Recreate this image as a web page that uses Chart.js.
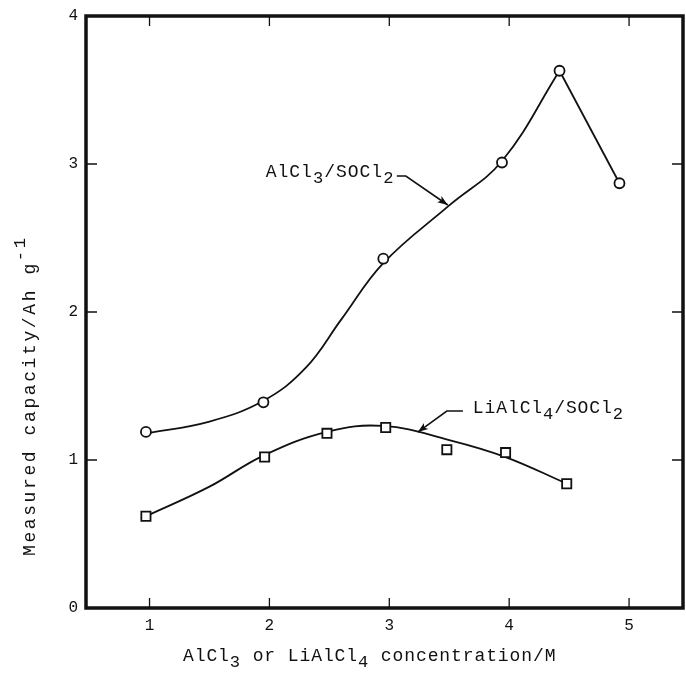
<!DOCTYPE html>
<html>
<head>
<meta charset="utf-8">
<script src="https://cdn.jsdelivr.net/npm/chart.js@4.4.1/dist/chart.umd.min.js"></script>
<style>
  html, body { margin: 0; padding: 0; background: #fff; }
  #wrap { width: 686px; height: 677px; position: relative; }
</style>
</head>
<body>
<div id="wrap"><canvas id="cap-chart"></canvas></div>
<script>
  // AlCl3/SOCl2 measured points (circles)
  const alX = [0.97, 1.95, 2.95, 3.94, 4.42, 4.92];
  const alY = [1.19, 1.39, 2.36, 3.01, 3.63, 2.87];
  // hand-drawn curve through them (rising part, then straight drop after peak)
  const alCurveX = [0.97, 1.5, 1.95, 2.3, 2.6, 2.95, 3.5, 3.94, 4.42];
  const alCurveY = [1.18, 1.26, 1.40, 1.62, 1.95, 2.33, 2.72, 3.02, 3.63];
  const alDropX = [4.42, 4.92];
  const alDropY = [3.63, 2.87];

  // LiAlCl4/SOCl2 measured points (squares)
  const liX = [0.97, 1.96, 2.48, 2.97, 3.48, 3.97, 4.48];
  const liY = [0.62, 1.02, 1.18, 1.22, 1.07, 1.05, 0.84];
  const liCurveX = [0.97, 1.5, 1.95, 2.48, 2.95, 3.5, 3.97, 4.48];
  const liCurveY = [0.62, 0.82, 1.03, 1.19, 1.23, 1.135, 1.02, 0.84];

  const xTicks = [1, 2, 3, 4, 5];
  const yTicks = [0, 1, 2, 3, 4];

  const FONT = '"Liberation Mono", "DejaVu Sans Mono", monospace';
  const INK = "#111";

  function pts(xs, ys) {
    return xs.map(function (x, i) { return { x: x, y: ys[i] }; });
  }

  // draw text with sub/superscript parts along current baseline
  function drawRich(ctx, parts, x, y, size, spacing) {
    ctx.save();
    ctx.letterSpacing = spacing + "px";
    ctx.textBaseline = "alphabetic";
    ctx.textAlign = "left";
    let cx = x;
    parts.forEach(function (p) {
      const fs = p.sub || p.sup ? size * 0.95 : size;
      ctx.font = fs + "px " + FONT;
      let dy = 0;
      if (p.sub) dy = size * 0.35;
      if (p.sup) dy = -size * 0.55;
      ctx.fillText(p.t, cx, y + dy);
      cx += ctx.measureText(p.t).width;
    });
    ctx.restore();
  }

  function arrow(ctx, pts2, head) {
    ctx.beginPath();
    ctx.moveTo(pts2[0][0], pts2[0][1]);
    for (let i = 1; i < pts2.length; i++) ctx.lineTo(pts2[i][0], pts2[i][1]);
    ctx.stroke();
    const a = pts2[pts2.length - 2], b = pts2[pts2.length - 1];
    const ang = Math.atan2(b[1] - a[1], b[0] - a[0]);
    ctx.beginPath();
    ctx.moveTo(b[0], b[1]);
    ctx.lineTo(b[0] - head * Math.cos(ang - 0.35), b[1] - head * Math.sin(ang - 0.35));
    ctx.lineTo(b[0] - head * 0.7 * Math.cos(ang), b[1] - head * 0.7 * Math.sin(ang));
    ctx.lineTo(b[0] - head * Math.cos(ang + 0.35), b[1] - head * Math.sin(ang + 0.35));
    ctx.closePath();
    ctx.fill();
  }

  const frame = {
    id: "frame",
    afterDatasetsDraw: function (chart) {
      const ctx = chart.ctx;
      const a = chart.chartArea;
      const xs = chart.scales.x, ys = chart.scales.y;
      ctx.save();
      ctx.strokeStyle = INK;
      ctx.fillStyle = INK;

      // inward ticks on all four sides
      ctx.lineWidth = 1.3;
      xTicks.forEach(function (v) {
        const px = xs.getPixelForValue(v);
        ctx.beginPath();
        ctx.moveTo(px, a.bottom); ctx.lineTo(px, a.bottom - 10);
        ctx.moveTo(px, a.top); ctx.lineTo(px, a.top + 10);
        ctx.stroke();
      });
      yTicks.forEach(function (v) {
        const py = ys.getPixelForValue(v);
        ctx.beginPath();
        ctx.moveTo(a.left, py); ctx.lineTo(a.left + 11, py);
        ctx.moveTo(a.right, py); ctx.lineTo(a.right - 11, py);
        ctx.stroke();
      });

      // heavy box
      ctx.lineWidth = 3.5;
      ctx.strokeRect(a.left, a.top, a.right - a.left, a.bottom - a.top);

      // arrows to the curves
      ctx.lineWidth = 1.6;
      const P = function (x, y) { return [xs.getPixelForValue(x), ys.getPixelForValue(y)]; };
      arrow(ctx, [P(3.063, 2.919), P(3.138, 2.919), P(3.488, 2.723)], 11);
      arrow(ctx, [P(3.614, 1.331), P(3.480, 1.331), P(3.238, 1.189)], 11);

      // curve labels
      let p = P(1.969, 2.912);
      drawRich(ctx, [{ t: "AlCl" }, { t: "3", sub: true }, { t: "/SOCl" }, { t: "2", sub: true }], p[0], p[1], 18, 1.0);
      p = P(3.697, 1.318);
      drawRich(ctx, [{ t: "LiAlCl" }, { t: "4", sub: true }, { t: "/SOCl" }, { t: "2", sub: true }], p[0], p[1], 18, 0.9);

      // axis titles
      drawRich(ctx, [{ t: "AlCl" }, { t: "3", sub: true }, { t: " or LiAlCl" }, { t: "4", sub: true }, { t: " concentration/M" }], 183, 661, 18, 0.9);
      ctx.translate(35, 556);
      ctx.rotate(-Math.PI / 2);
      drawRich(ctx, [{ t: "Measured capacity/Ah g" }, { t: "-1", sup: true }], 0, 0, 18, 2.6);
      ctx.restore();
    }
  };

  const ctx = document.getElementById("cap-chart").getContext("2d");
  new Chart(ctx, {
    type: "scatter",
    data: {
      datasets: [
        {
          data: pts(alX, alY),
          pointStyle: "circle",
          pointRadius: 5,
          pointBorderWidth: 1.8,
          pointBackgroundColor: "#fff",
          pointBorderColor: INK,
          showLine: false,
        },
        {
          data: pts(liX, liY),
          pointStyle: "rect",
          pointRadius: 6.5,
          pointBorderWidth: 1.8,
          pointBackgroundColor: "#fff",
          pointBorderColor: INK,
          showLine: false,
        },
        {
          data: pts(alCurveX, alCurveY),
          showLine: true,
          pointRadius: 0,
          borderColor: INK,
          borderWidth: 1.8,
          tension: 0.4,
        },
        {
          data: pts(alDropX, alDropY),
          showLine: true,
          pointRadius: 0,
          borderColor: INK,
          borderWidth: 1.8,
          tension: 0,
        },
        {
          data: pts(liCurveX, liCurveY),
          showLine: true,
          pointRadius: 0,
          borderColor: INK,
          borderWidth: 1.8,
          tension: 0.4,
        },
      ],
    },
    options: {
      animation: false,
      responsive: true,
      maintainAspectRatio: false,
      events: [],
      layout: { autoPadding: false, padding: { left: 0, top: 16, right: 3, bottom: 0 } },
      plugins: {
        legend: { display: false },
        tooltip: { enabled: false },
      },
      scales: {
        x: {
          type: "linear",
          min: 0.47,
          max: 5.45,
          grid: { display: false },
          border: { display: false },
          afterFit: function (scale) {
            scale.height = 69;
            scale.paddingLeft = 0;
            scale.paddingRight = 0;
          },
          ticks: {
            stepSize: 1,
            includeBounds: false,
            color: INK,
            padding: 0,
            font: { family: FONT, size: 16 },
          },
        },
        y: {
          min: 0,
          max: 4,
          grid: { display: false },
          border: { display: false },
          afterFit: function (scale) {
            scale.width = 86;
            scale.paddingTop = 0;
            scale.paddingBottom = 0;
          },
          ticks: {
            stepSize: 1,
            color: INK,
            padding: 0,
            font: { family: FONT, size: 16 },
          },
        },
      },
    },
    plugins: [frame],
  });
</script>
</body>
</html>
